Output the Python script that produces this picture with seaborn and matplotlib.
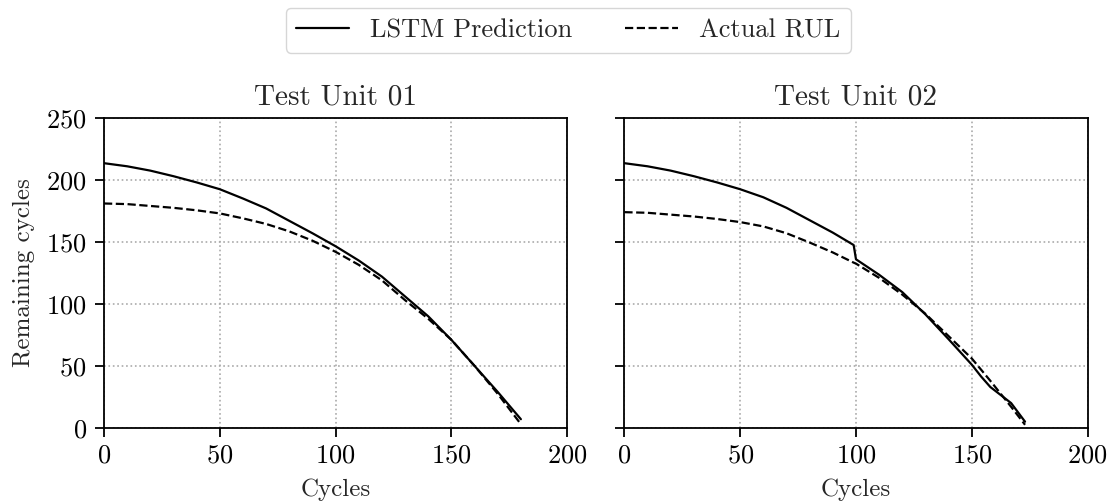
import numpy as np
import pandas as pd
import matplotlib
matplotlib.use("Agg")
import matplotlib.pyplot as plt
from matplotlib.lines import Line2D
import seaborn as sns

# ---- data ----
unit01_cycles = [0, 10, 20, 30, 40, 50, 60, 70, 80, 90, 100, 110, 120, 130, 140, 150, 160, 170, 180]
unit01_pred = [213.5, 211, 207.5, 203, 198, 192.5, 185, 177, 167, 157, 146.5, 135, 122, 106, 90, 71, 50, 29, 7]
unit01_actual = [181, 180.5, 179, 177.5, 175.5, 173, 169, 164.5, 158.5, 151, 142, 131.5, 119, 103, 88, 71, 50, 27.5, 3]

unit02_cycles = [0, 10, 20, 30, 40, 50, 60, 70, 80, 90, 99, 100, 110, 120, 130, 140, 150, 154, 158, 167, 173]
unit02_pred = [213.5, 211, 207.5, 203, 198, 192.5, 186, 177.5, 167.5, 157.5, 147.5, 136, 123.5, 109.5, 91.5, 71.5, 51, 41.5, 33, 20, 5]
unit02_actual = [174, 173.5, 172, 170.5, 168.5, 166, 162.5, 157, 149.5, 141.5, 133.3, 132.5, 121, 107.5, 92, 74, 56, 47, 38, 17, 2.5]

titles = ["Test Unit 01", "Test Unit 02"]
series_names = ["LSTM Prediction", "Actual RUL"]


def frame(cycles, pred, actual):
    return pd.concat([
        pd.DataFrame({"Cycles": cycles, "RUL": pred, "Series": series_names[0]}),
        pd.DataFrame({"Cycles": cycles, "RUL": actual, "Series": series_names[1]}),
    ], ignore_index=True)


frames = [frame(unit01_cycles, unit01_pred, unit01_actual),
          frame(unit02_cycles, unit02_pred, unit02_actual)]

sns.set_theme(style="ticks")
plt.rcParams.update({
    "font.family": ["cmr10", "DejaVu Serif"],
    "mathtext.fontset": "cm",
    "axes.formatter.use_mathtext": True,
    "axes.unicode_minus": False,
    "axes.edgecolor": "black",
    "axes.linewidth": 1.3,
    "xtick.color": "black",
    "ytick.color": "black",
    "xtick.major.width": 1.3,
    "ytick.major.width": 1.3,
    "xtick.major.size": 6.5,
    "ytick.major.size": 6.5,
    "xtick.major.pad": 5,
    "ytick.major.pad": 6,
    "font.size": 18,
})

fig = plt.figure(figsize=(11.1, 5.04), dpi=100)
ax1 = fig.add_axes([0.0937, 0.151, 0.4173, 0.615])
ax2 = fig.add_axes([0.5625, 0.151, 0.4173, 0.615], sharey=ax1)

for ax, df, title in zip([ax1, ax2], frames, titles):
    sns.lineplot(data=df, x="Cycles", y="RUL", style="Series",
                 style_order=series_names,
                 dashes={series_names[0]: "", series_names[1]: (3.7, 1.6)},
                 color="black", linewidth=1.6, ax=ax, legend=False,
                 estimator=None, sort=False)
    ax.set_xlim(0, 200)
    ax.set_ylim(0, 250)
    ax.set_xticks([0, 50, 100, 150, 200])
    ax.set_yticks([0, 50, 100, 150, 200, 250])
    ax.grid(True, linestyle=":", color="#aaaaaa", linewidth=1.2)
    ax.set_title(title, fontsize=21, pad=10)
    ax.set_xlabel("Cycles", fontsize=18, labelpad=8)
    ax.tick_params(labelsize=19)
    for s in ax.spines.values():
        s.set_visible(True)
        s.set_color("black")

ax1.set_ylabel("Remaining cycles", fontsize=18, labelpad=8)
ax2.set_ylabel("")
ax2.tick_params(labelleft=False)

handles = [Line2D([], [], color="black", lw=1.6, linestyle="-"),
           Line2D([], [], color="black", lw=1.6, linestyle="--")]
fig.legend(handles, series_names, loc="center", bbox_to_anchor=(0.512, 0.94),
           ncol=2, fontsize=19, frameon=True, fancybox=True,
           edgecolor="#cccccc", handlelength=2.0, columnspacing=2.0,
           handletextpad=0.8, borderpad=0.4)

fig.savefig("out.png", dpi=100)
